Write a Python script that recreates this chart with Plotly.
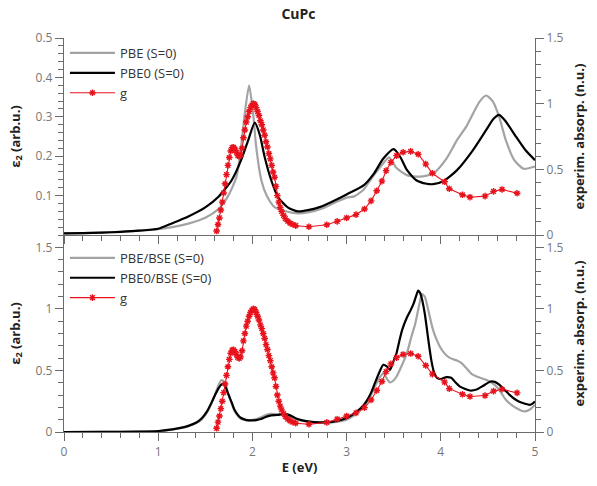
import plotly.graph_objects as go

# ---------------- data ----------------
# top panel: PBE (S=0), grey
E_pbe = [0, 0.2, 0.4, 0.6, 0.8, 1.0, 1.15, 1.32, 1.5, 1.64, 1.74, 1.83, 1.88, 1.92, 1.965,
         2.007, 2.04, 2.095, 2.15, 2.235, 2.375, 2.48, 2.6, 2.75, 2.9, 3.0, 3.08, 3.18, 3.25,
         3.36, 3.45, 3.53, 3.64, 3.78, 3.92, 4.06, 4.17, 4.27, 4.41, 4.48, 4.55, 4.62, 4.69,
         4.78, 4.88, 5.0]
v_pbe = [0.004, 0.005, 0.006, 0.008, 0.011, 0.015, 0.02, 0.029, 0.044, 0.066, 0.098, 0.147,
         0.224, 0.31, 0.38, 0.31, 0.224, 0.139, 0.101, 0.071, 0.059, 0.055, 0.058, 0.068,
         0.085, 0.095, 0.098, 0.115, 0.139, 0.173, 0.197, 0.17, 0.152, 0.148, 0.156, 0.194,
         0.24, 0.275, 0.338, 0.354, 0.34, 0.30, 0.241, 0.19, 0.168, 0.174]

# top panel: PBE0 (S=0), black
E_pbe0 = [0, 0.2, 0.4, 0.6, 0.8, 1.0, 1.15, 1.32, 1.5, 1.64, 1.78, 1.88, 1.955, 2.025, 2.08,
          2.13, 2.2, 2.27, 2.375, 2.48, 2.59, 2.73, 2.85, 3.0, 3.18, 3.29, 3.39, 3.5, 3.57,
          3.64, 3.74, 3.85, 3.92, 4.03, 4.17, 4.34, 4.48, 4.56, 4.62, 4.69, 4.8, 4.9, 5.0]
v_pbe0 = [0.004, 0.005, 0.006, 0.008, 0.011, 0.016, 0.03, 0.047, 0.07, 0.097, 0.139, 0.19,
          0.24, 0.285, 0.253, 0.198, 0.139, 0.097, 0.07, 0.06, 0.063, 0.072, 0.085, 0.103,
          0.126, 0.156, 0.194, 0.218, 0.198, 0.165, 0.139, 0.13, 0.129, 0.137, 0.164, 0.215,
          0.266, 0.295, 0.305, 0.288, 0.249, 0.215, 0.19]

# experimental absorption "g" (right axis, both panels)
E_g = [1.62, 1.635, 1.65, 1.665, 1.68, 1.695, 1.71, 1.725, 1.74, 1.755, 1.77, 1.785, 1.8,
       1.815, 1.83, 1.845, 1.86, 1.875, 1.89, 1.905, 1.92, 1.935, 1.95, 1.965, 1.98, 1.995,
       2.01, 2.025, 2.04, 2.055, 2.07, 2.085, 2.1, 2.115, 2.13, 2.145, 2.16, 2.175, 2.19,
       2.205, 2.22, 2.235, 2.25, 2.265, 2.28, 2.295, 2.31, 2.33, 2.35, 2.375, 2.4, 2.43,
       2.46, 2.6, 2.79, 2.9, 3.0, 3.1, 3.19, 3.26, 3.32, 3.375, 3.42, 3.47, 3.53, 3.6, 3.68,
       3.76, 3.84, 3.91, 4.04, 4.09, 4.23, 4.31, 4.47, 4.56, 4.65, 4.81]
v_g = [0.03, 0.08, 0.13, 0.19, 0.25, 0.32, 0.39, 0.46, 0.53, 0.59, 0.64, 0.665, 0.668,
       0.655, 0.63, 0.605, 0.598, 0.61, 0.66, 0.74, 0.80, 0.86, 0.90, 0.94, 0.97, 0.99,
       1.0, 0.995, 0.97, 0.94, 0.91, 0.87, 0.84, 0.80, 0.76, 0.71, 0.67, 0.62, 0.58,
       0.53, 0.48, 0.44, 0.37, 0.30, 0.25, 0.21, 0.18, 0.15, 0.125, 0.105, 0.09, 0.08,
       0.071, 0.063, 0.078, 0.104, 0.13, 0.155, 0.198, 0.26, 0.337, 0.41, 0.49, 0.553,
       0.604, 0.63, 0.637, 0.615, 0.54, 0.47, 0.405, 0.352, 0.306, 0.288, 0.296, 0.332,
       0.347, 0.318]

# bottom panel: PBE/BSE (S=0), grey
E_pbebse = [0, 0.4, 0.8, 1.0, 1.15, 1.25, 1.32, 1.4, 1.46, 1.52, 1.57, 1.61, 1.64, 1.67,
            1.69, 1.72, 1.74, 1.78, 1.81, 1.85, 1.88, 1.94, 1.99, 2.04, 2.09, 2.15, 2.2,
            2.27, 2.34, 2.4, 2.48, 2.57, 2.66, 2.83, 2.92, 3.0, 3.06, 3.11, 3.16, 3.21,
            3.26, 3.3, 3.35, 3.39, 3.43, 3.46, 3.5, 3.53, 3.58, 3.64, 3.69, 3.73, 3.77,
            3.8, 3.83, 3.87, 3.91, 3.95, 4.0, 4.05, 4.1, 4.17, 4.22, 4.27, 4.33, 4.38,
            4.48, 4.54, 4.59, 4.64, 4.69, 4.75, 4.8, 4.85, 4.89, 4.95, 5.0]
v_pbebse = [0.0, 0.001, 0.003, 0.007, 0.02, 0.033, 0.047, 0.07, 0.10, 0.16, 0.24, 0.32,
            0.38, 0.42, 0.415, 0.37, 0.32, 0.23, 0.17, 0.125, 0.105, 0.095, 0.097, 0.105,
            0.12, 0.14, 0.148, 0.145, 0.14, 0.125, 0.1, 0.085, 0.078, 0.077, 0.085, 0.1,
            0.125, 0.15, 0.185, 0.235, 0.3, 0.37, 0.44, 0.478, 0.43, 0.402, 0.42, 0.451,
            0.53, 0.64, 0.78, 0.884, 1.03, 1.12, 1.10, 0.98, 0.85, 0.76, 0.68, 0.63, 0.6,
            0.58, 0.56, 0.52, 0.47, 0.451, 0.424, 0.4, 0.37, 0.32, 0.262, 0.22, 0.195,
            0.175, 0.167, 0.185, 0.221]

# bottom panel: PBE0/BSE (S=0), black
E_pbe0bse = [0, 0.4, 0.8, 1.0, 1.15, 1.25, 1.32, 1.4, 1.46, 1.52, 1.57, 1.61, 1.64, 1.67,
             1.69, 1.72, 1.74, 1.78, 1.81, 1.85, 1.88, 1.94, 1.99, 2.04, 2.09, 2.15, 2.2,
             2.27, 2.34, 2.4, 2.48, 2.57, 2.66, 2.83, 2.92, 3.0, 3.06, 3.11, 3.16, 3.21,
             3.26, 3.3, 3.35, 3.39, 3.43, 3.46, 3.5, 3.53, 3.56, 3.59, 3.64, 3.68, 3.71,
             3.74, 3.76, 3.78, 3.8, 3.83, 3.85, 3.88, 3.9, 3.93, 3.96, 4.0, 4.06, 4.11,
             4.16, 4.2, 4.31, 4.38, 4.45, 4.53, 4.58, 4.62, 4.68, 4.73, 4.8, 4.87, 4.95, 5.0]
v_pbe0bse = [0.0, 0.001, 0.003, 0.008, 0.022, 0.035, 0.05, 0.075, 0.11, 0.17, 0.245, 0.31,
             0.355, 0.385, 0.39, 0.36, 0.315, 0.24, 0.18, 0.135, 0.114, 0.097, 0.094,
             0.097, 0.105, 0.125, 0.135, 0.138, 0.15, 0.135, 0.105, 0.088, 0.081, 0.081,
             0.093, 0.113, 0.14, 0.167, 0.2, 0.248, 0.32, 0.397, 0.49, 0.546, 0.53, 0.505,
             0.58, 0.64, 0.74, 0.83, 0.93, 0.99, 1.04, 1.11, 1.148, 1.13, 1.08, 0.96, 0.85,
             0.68, 0.58, 0.48, 0.44, 0.43, 0.446, 0.44, 0.40, 0.37, 0.337, 0.345, 0.376,
             0.41, 0.405, 0.384, 0.34, 0.302, 0.26, 0.235, 0.221, 0.248]

x_ticks = [0, 1, 2, 3, 4, 5]

# ---------------- style ----------------
GREY = "#a3a3a3"
BLACK = "#000000"
RED = "#e8121c"
AXC = "#6b6b6b"
TXT = "#222222"
FONT = "Open Sans"

fig = go.Figure()

def theory(x, y, name, color, xa, ya, legend):
    return go.Scatter(x=x, y=y, name=name, mode="lines", xaxis=xa, yaxis=ya,
                      line=dict(color=color, width=2.2, shape="spline", smoothing=0.6),
                      legend=legend)

def expt(xa, ya, legend):
    return go.Scatter(x=E_g, y=v_g, name="g", mode="lines+markers", xaxis=xa, yaxis=ya,
                      line=dict(color=RED, width=1.1),
                      marker=dict(symbol="asterisk-open", size=5.5, color=RED,
                                  line=dict(color=RED, width=1.4)),
                      legend=legend)

# top panel
fig.add_trace(theory(E_pbe, v_pbe, "PBE (S=0)", GREY, "x2", "y3", "legend"))
fig.add_trace(theory(E_pbe0, v_pbe0, "PBE0 (S=0)", BLACK, "x2", "y3", "legend"))
fig.add_trace(expt("x2", "y4", "legend"))
# bottom panel
fig.add_trace(theory(E_pbebse, v_pbebse, "PBE/BSE (S=0)", GREY, "x", "y", "legend2"))
fig.add_trace(theory(E_pbe0bse, v_pbe0bse, "PBE0/BSE (S=0)", BLACK, "x", "y", "legend2"))
fig.add_trace(expt("x", "y2", "legend2"))

tickfont = dict(family=FONT, size=12, color="#777777")
titlefont = dict(family=FONT, size=13, color=TXT)

def xax(**kw):
    d = dict(range=[0, 5], showline=True, linecolor=AXC, linewidth=1.3,
             ticks="outside", ticklen=8, tickwidth=1.2, tickcolor=AXC,
             tickvals=x_ticks, tickfont=tickfont, showgrid=False, zeroline=False,
             minor=dict(ticks="outside", ticklen=5, tickwidth=1, tickcolor=AXC, dtick=0.2,
                        showgrid=False))
    d.update(kw)
    return d

def yax(rng, tickvals, minor_dt, **kw):
    d = dict(range=rng, showline=True, linecolor=AXC, linewidth=1.3,
             ticks="outside", ticklen=8, tickwidth=1.2, tickcolor=AXC,
             tickvals=tickvals, tickfont=tickfont, showgrid=False, zeroline=False,
             minor=dict(ticks="outside", ticklen=5, tickwidth=1, tickcolor=AXC,
                        dtick=minor_dt, tick0=0, showgrid=False))
    d.update(kw)
    return d

fig.update_layout(
    width=597, height=486,
    margin=dict(l=64, r=58, t=38, b=54),
    paper_bgcolor="white", plot_bgcolor="white",
    font=dict(family=FONT, size=13, color=TXT),
    title=dict(text="<b>CuPc</b>", x=0.5, xanchor="center", y=0.972, yanchor="middle",
               font=dict(family=FONT, size=14, color=TXT)),
    xaxis=xax(anchor="y", domain=[0, 1],
              title=dict(text="<b>E (eV)</b>", font=titlefont, standoff=4)),
    xaxis2=xax(anchor="y3", domain=[0, 1], matches="x", showticklabels=False),
    yaxis=yax([0, 1.6], [0, 0.5, 1, 1.5], 0.1, domain=[0, 0.5], anchor="x",
              title=dict(text="<b>ε<sub>2</sub> (arb.u.)</b>", font=titlefont, standoff=12)),
    yaxis2=yax([0, 1.6], [0, 0.5, 1, 1.5], 0.1, overlaying="y", side="right", anchor="x",
               title=dict(text="<b>experim. absorp. (n.u.)</b>", font=titlefont, standoff=12)),
    yaxis3=yax([0, 0.5], [0.1, 0.2, 0.3, 0.4, 0.5], 0.02, domain=[0.5, 1], anchor="x2",
               title=dict(text="<b>ε<sub>2</sub> (arb.u.)</b>", font=titlefont, standoff=12)),
    yaxis4=yax([0, 1.5], [0, 0.5, 1, 1.5], 0.1, overlaying="y3", side="right", anchor="x2",
               title=dict(text="<b>experim. absorp. (n.u.)</b>", font=titlefont, standoff=12)),
    legend=dict(x=0.002, y=1.0, xanchor="left", yanchor="top", bgcolor="rgba(0,0,0,0)",
                font=dict(family=FONT, size=13, color="#333333"), itemwidth=45,
                tracegroupgap=0),
    legend2=dict(x=0.002, y=0.48, xanchor="left", yanchor="top", bgcolor="rgba(0,0,0,0)",
                 font=dict(family=FONT, size=13, color="#333333"), itemwidth=45,
                 tracegroupgap=0),
    showlegend=True,
)

fig.write_html("out.html")
